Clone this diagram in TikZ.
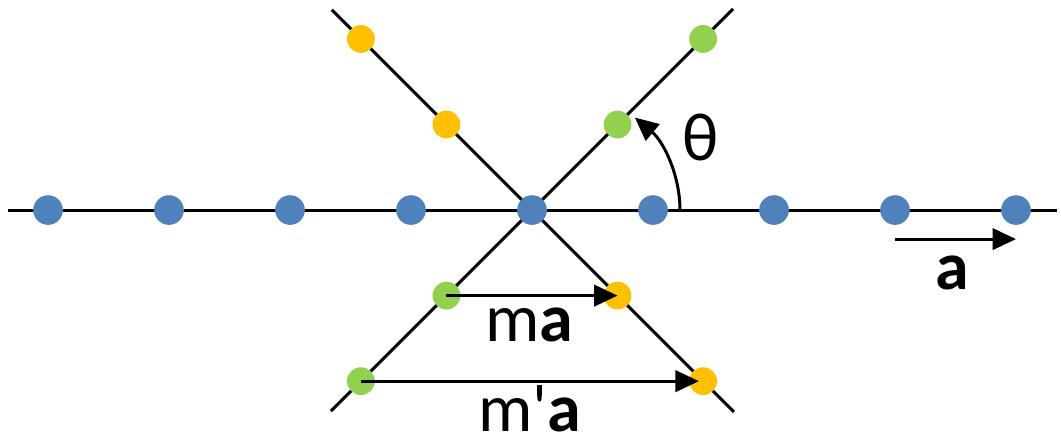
\documentclass[tikz,border=0pt]{standalone}
\usepackage{fontspec}
\setmainfont{Carlito}
\usetikzlibrary{arrows.meta,positioning}
\definecolor{siteblue}{HTML}{4F81BD}
\definecolor{sitegreen}{HTML}{92D050}
\definecolor{siteorange}{HTML}{FFC000}

\begin{document}
\begin{tikzpicture}[x=2cm, y=2cm,
  bond/.style={line width=1.4pt},
  vec/.style={line width=1.4pt, -{Triangle[length=11pt,width=10pt]}},
  site/.style={circle, fill=#1, inner sep=0pt, minimum size=0.49cm},
  lbl/.style={anchor=base, font=\fontsize{32}{38}\selectfont}]
  \useasboundingbox (-4.397,-1.926) rectangle (4.372,1.736);
  % lattice lines
  \coordinate (hl) at (-4.33,0);
  \coordinate (hr) at (4.34,0);
  \coordinate (ot) at (135:2.34);
  \coordinate (ob) at (-45:2.36);
  \coordinate (gt) at (45:2.35);
  \coordinate (gb) at (225:2.35);
  \draw[bond] (hl) -- (hr);
  \draw[bond] (ot) -- (ob);
  \draw[bond] (gt) -- (gb);
  % lattice sites
  \foreach \i in {-4,...,4}
    \node[site=siteblue] (b\i) at (\i,0) {};
  \foreach \i in {1,2} {
    \node[site=siteorange, minimum size=0.46cm] (ou\i) at (135:\i) {};
    \node[site=siteorange, minimum size=0.46cm] (od\i) at (-45:\i) {};
    \node[site=sitegreen, minimum size=0.46cm] (gu\i) at (45:\i) {};
    \node[site=sitegreen, minimum size=0.46cm] (gd\i) at (225:\i) {};
  }
  % angle
  \coordinate (th0) at (1.223,0);
  \draw[vec] (th0) arc[start angle=0, end angle=46, x radius=1.223, y radius=1.063];
  \node[lbl] (theta) at (1.39,0.413) {θ};
  % translation vectors
  \coordinate (a0) at (3,-0.24);
  \coordinate (a1) at (4.0,-0.24);
  \draw[vec] (a0) -- (a1);
  \node[lbl] (alab) at (3.47,-0.66) {\textbf{a}};
  \draw[vec] (gd1.center) -- (od1.center);
  \draw[vec, shorten >=2pt] (gd2.center) -- (od2.center);
  \node[lbl] (malab) at (-0.02,-1.09) {m\textbf{a}};
  \node[lbl] (mpalab) at (-0.02,-1.83) {m\textquotesingle\textbf{a}};
\end{tikzpicture}
\end{document}
